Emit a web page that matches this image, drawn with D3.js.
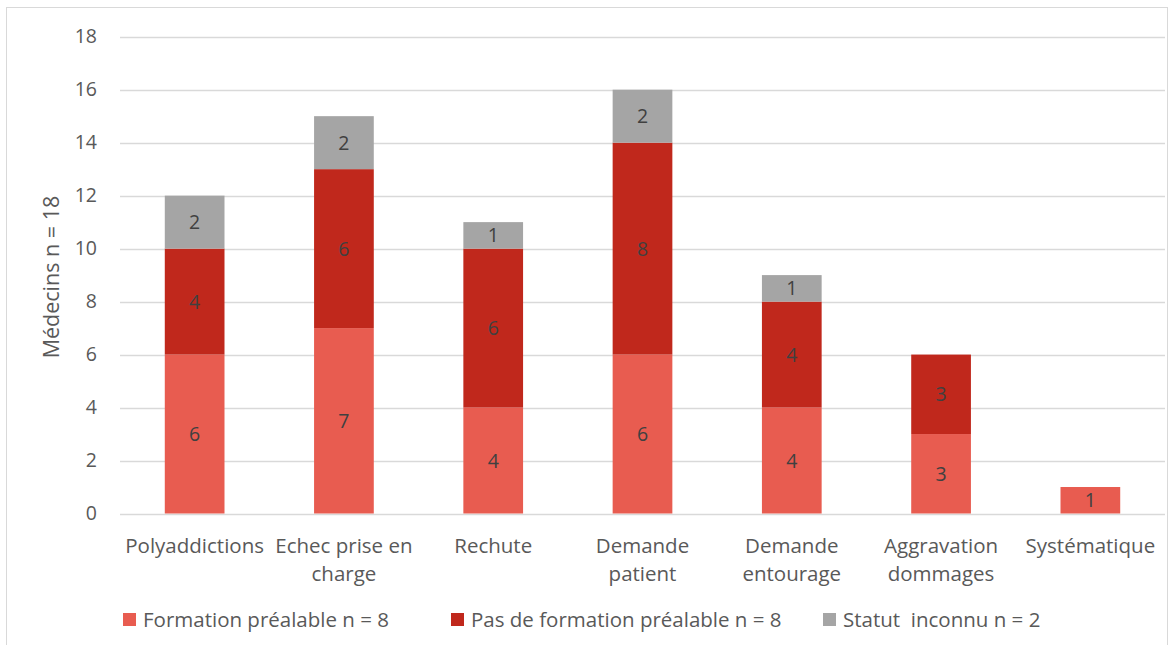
<!DOCTYPE html>
<html>
<head>
<meta charset="utf-8">
<script src="https://cdn.jsdelivr.net/npm/d3@7"></script>
<style>
  body { margin: 0; background: #fff; }
  text { font-family: "Open Sans", sans-serif; fill: #595959; white-space: pre; }
</style>
</head>
<body>
<svg id="chart" width="1169" height="645"></svg>
<script>
var categories = [
  ["Polyaddictions"],
  ["Echec prise en", "charge"],
  ["Rechute"],
  ["Demande", "patient"],
  ["Demande", "entourage"],
  ["Aggravation", "dommages"],
  ["Systématique"]
];
var seriesNames = ["Formation préalable n = 8", "Pas de formation préalable n = 8", "Statut  inconnu n = 2"];
var formation = [6, 7, 4, 6, 4, 3, 1];
var pasFormation = [4, 6, 6, 8, 4, 3, 0];
var inconnu = [2, 2, 1, 2, 1, 0, 0];
var yTicks = [0, 2, 4, 6, 8, 10, 12, 14, 16, 18];
var colors = ["#E85C50", "#C0281C", "#A5A5A5"];

var svg = d3.select("svg#chart");

// cadre
svg.append("rect")
  .attr("x", 6.5).attr("y", 7.5)
  .attr("width", 1161).attr("height", 660)
  .attr("fill", "none")
  .attr("stroke", "#d9d9d9");

var x = d3.scaleBand()
  .domain(d3.range(categories.length))
  .range([120, 1165])
  .paddingInner(0.6)
  .paddingOuter(0.3);

var y = d3.scaleLinear().domain([0, 18]).range([513.5, 36.7]);

// grille
svg.append("g").selectAll("line")
  .data(yTicks)
  .enter()
  .append("line")
  .attr("x1", 120).attr("x2", 1165)
  .attr("y1", function (d) { return Math.round(y(d)) + 0.5; })
  .attr("y2", function (d) { return Math.round(y(d)) + 0.5; })
  .attr("stroke", "#d9d9d9")
  .attr("stroke-width", 1.3);

// axe y
var yAxis = svg.append("g")
  .attr("transform", "translate(120,0)")
  .call(d3.axisLeft(y).tickValues(yTicks).tickSize(0).tickPadding(23));
yAxis.select(".domain").remove();
yAxis.selectAll("text")
  .attr("font-size", 19.5)
  .attr("fill", "#595959")
  .style("font-family", "'Open Sans', sans-serif");

svg.append("text")
  .attr("transform", "translate(59,277) rotate(-90)")
  .attr("text-anchor", "middle")
  .attr("font-size", 21.5)
  .text("Médecins n = 18");

// empilement
var rows = categories.map(function (c, i) {
  return { i: i, f: formation[i], p: pasFormation[i], u: inconnu[i] };
});
var stack = d3.stack().keys(["f", "p", "u"]);
var layers = stack(rows);

var g = svg.append("g");
layers.forEach(function (layer, k) {
  var lg = g.append("g").attr("fill", colors[k]);
  lg.selectAll("rect")
    .data(layer.filter(function (d) { return d[1] > d[0]; }))
    .enter()
    .append("rect")
    .attr("x", function (d) { return x(d.data.i); })
    .attr("width", x.bandwidth())
    .attr("y", function (d) { return y(d[1]); })
    .attr("height", function (d) { return y(d[0]) - y(d[1]); });
  lg.selectAll("text")
    .data(layer.filter(function (d) { return d[1] > d[0]; }))
    .enter()
    .append("text")
    .attr("x", function (d) { return x(d.data.i) + x.bandwidth() / 2; })
    .attr("y", function (d) { return (y(d[0]) + y(d[1])) / 2 + 7; })
    .attr("text-anchor", "middle")
    .attr("font-size", 19.5)
    .style("fill", "#404040")
    .text(function (d) { return d[1] - d[0]; });
});

// étiquettes des catégories
var cat = svg.append("g").selectAll("text")
  .data(categories)
  .enter()
  .append("text")
  .attr("x", function (d, i) { return x(i) + x.bandwidth() / 2; })
  .attr("y", 553)
  .attr("text-anchor", "middle")
  .attr("font-size", 20.5);
cat.selectAll("tspan")
  .data(function (d) { return d; })
  .enter()
  .append("tspan")
  .attr("x", function () { return d3.select(this.parentNode).attr("x"); })
  .attr("dy", function (d, j) { return j === 0 ? 0 : 28; })
  .text(function (d) { return d; });

// légende
var legendX = [123, 451, 823];
var legend = svg.append("g").selectAll("g")
  .data(seriesNames)
  .enter()
  .append("g")
  .attr("transform", function (d, i) { return "translate(" + legendX[i] + ",613)"; });
legend.append("rect")
  .attr("width", 13).attr("height", 13)
  .attr("fill", function (d, i) { return colors[i]; });
legend.append("text")
  .attr("x", 20).attr("y", 13.5)
  .attr("font-size", 20.5)
  .text(function (d) { return d; });
</script>
</body>
</html>
